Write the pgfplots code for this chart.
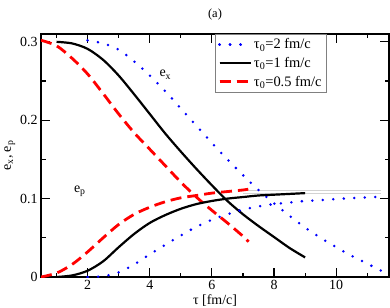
\documentclass[border=0pt]{standalone}
\usepackage{fontspec}
\setmainfont{Liberation Serif}
\usepackage{pgfplots}
\pgfplotsset{compat=1.18}
\definecolor{pblue}{RGB}{0,0,255}
\definecolor{pred}{RGB}{255,0,0}
\begin{document}
\begin{tikzpicture}
\begin{axis}[
 scale only axis, width=348bp, height=243bp,
 xmin=0.5, xmax=11.7, ymin=0, ymax=0.31,
 xtick={2,4,6,8,10}, minor xtick={1,3,5,7,9,11},
 ytick={0,0.1,0.2,0.3}, minor ytick={0.05,0.15,0.25},
 tick align=inside, major tick length=9bp, minor tick length=4.5bp,
 axis line style={line width=1.3bp},
 every tick/.style={line width=1.1bp, black},
 ticklabel style={font=\fontsize{14}{16}\selectfont},
 /pgf/number format/assume math mode=true,
 xlabel={τ [fm/c]}, ylabel={e\textsubscript{x}, e\textsubscript{p}},
 label style={font=\fontsize{14}{16}\selectfont},
 xlabel style={yshift=2bp},
 ylabel style={yshift=-2bp},
 title={(a)}, title style={font=\fontsize{12.5}{14}\selectfont, yshift=4bp},
 legend style={at={(axis cs:6.1,0.31)}, anchor=north west, draw=gray,
   font=\fontsize{14.5}{16}\selectfont, row sep=3bp, inner xsep=3bp, inner ysep=2.5bp},
 legend cell align=left,
 legend image code/.code={\draw[#1] (0bp,0bp) -- (23bp,0bp); \path (0bp,0bp) -- (31bp,0bp);},
]
\coordinate (LL) at (rel axis cs:0,0);
\coordinate (UR) at (rel axis cs:1,1);
% light gray asymptote lines
\addplot[forget plot, gray!35, line width=0.8bp] coordinates {(7.0,0.111) (11.45,0.111)};
\addplot[forget plot, gray!35, line width=0.8bp] coordinates {(7.0,0.107) (11.45,0.107)};
% tau0 = 2 : e_x
\addplot[pblue, smooth, line width=2.8bp, line cap=round, dash pattern=on 0bp off 10.5bp] coordinates {
(2,0.302) (2.5,0.298) (3,0.29) (3.5,0.275) (4,0.257) (4.5,0.237) (5,0.215) (5.5,0.193)
(6,0.171) (6.5,0.15) (7,0.13) (7.5,0.111) (8,0.094) (8.5,0.078) (9,0.063) (9.5,0.05)
(10,0.038) (10.5,0.027) (11,0.017) (11.5,0.007)};
\addlegendentry{τ\textsubscript{0}=2 fm/c}
% tau0 = 1 : e_x
\addplot[black, smooth, line width=2.2bp] coordinates {
(1,0.3) (1.5,0.298) (2,0.291) (2.5,0.277) (3,0.257) (3.5,0.233) (4,0.208) (4.5,0.183)
(5,0.16) (5.5,0.138) (6,0.117) (6.5,0.097) (7,0.08) (7.5,0.065) (8,0.051) (8.5,0.037) (9,0.025)};
\addlegendentry{τ\textsubscript{0}=1 fm/c}
% tau0 = 0.5 : e_x
\addplot[pred, smooth, line width=2.8bp, dash pattern=on 11bp off 6bp] coordinates {
(0.5,0.302) (1,0.295) (1.5,0.279) (2,0.259) (2.5,0.234) (3,0.208) (3.5,0.184) (4,0.163)
(4.5,0.142) (5,0.121) (5.5,0.102) (6,0.085) (6.5,0.069) (7,0.052) (7.18,0.045)};
\addlegendentry{τ\textsubscript{0}=0.5 fm/c}
% e_p curves
\addplot[forget plot, smooth, pblue, line width=2.8bp, line cap=round, dash pattern=on 0bp off 10.5bp] coordinates {
(2,0) (2.5,0.001) (3,0.006) (3.5,0.016) (4,0.029) (4.5,0.041) (5,0.053) (5.5,0.064)
(6,0.073) (6.5,0.08) (7,0.086) (7.5,0.09) (8,0.093) (8.5,0.095) (9,0.097) (9.5,0.098)
(10,0.0995) (10.5,0.1005) (11,0.1015) (11.5,0.1025)};
\addplot[forget plot, smooth, black, line width=2.2bp] coordinates {
(1,0) (1.5,0.002) (2,0.008) (2.5,0.02) (3,0.038) (3.5,0.055) (4,0.069) (4.5,0.079)
(5,0.087) (5.5,0.093) (6,0.097) (6.5,0.1) (7,0.102) (7.5,0.104) (8,0.105) (8.5,0.106) (9,0.107)};
\addplot[forget plot, smooth, pred, line width=2.8bp, dash pattern=on 11bp off 6bp] coordinates {
(0.5,0) (1,0.005) (1.5,0.016) (2,0.032) (2.5,0.05) (3,0.067) (3.5,0.08) (4,0.089)
(4.5,0.096) (5,0.101) (5.5,0.104) (6,0.107) (6.5,0.109) (7,0.111) (7.17,0.112)};
\node[font=\fontsize{14}{16}\selectfont] at (axis cs:4.5,0.258) {e\textsubscript{x}};
\node[font=\fontsize{14}{16}\selectfont] at (axis cs:1.75,0.109) {e\textsubscript{p}};
\end{axis}
\pgfresetboundingbox
\path[use as bounding box] ([xshift=-41bp,yshift=-31bp]LL) rectangle ([xshift=1bp,yshift=34bp]UR);
\end{tikzpicture}
\end{document}
